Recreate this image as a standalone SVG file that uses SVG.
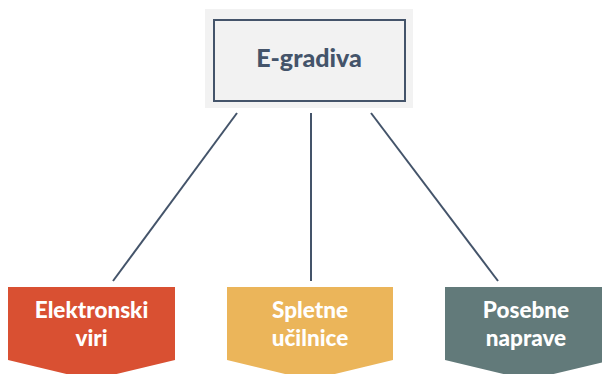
<svg xmlns="http://www.w3.org/2000/svg" width="602" height="374" viewBox="0 0 602 374">
<style>
.lbl{font-family:Lato,"Open Sans",sans-serif;font-weight:900;font-size:22.5px;fill:#ffffff;text-anchor:middle}
.title{font-family:Lato,"Open Sans",sans-serif;font-weight:900;font-size:25px;fill:#44546A;text-anchor:middle}
.conn{stroke:#44546A;stroke-width:2;fill:none}
</style>
<rect width="602" height="374" fill="#ffffff"/>
<g id="connectors">
<line class="conn" x1="237" y1="113" x2="113" y2="281"/>
<line class="conn" x1="311" y1="113" x2="311" y2="281"/>
<line class="conn" x1="371" y1="113" x2="498" y2="281"/>
</g>
<g id="node-egradiva">
<rect x="205" y="9" width="208" height="99" fill="#F2F2F2"/>
<rect x="214" y="20" width="191" height="81" fill="#F2F2F2" stroke="#44546A" stroke-width="2"/>
<text class="title" x="309" y="67">E-gradiva</text>
</g>
<g id="node-elektronski">
<polygon points="8,287 175,287 175,360 91.5,380 8,360" fill="#D95032"/>
<text class="lbl" x="91.5" y="318">Elektronski</text>
<text class="lbl" x="91.5" y="346">viri</text>
</g>
<g id="node-spletne">
<polygon points="227,287 393,287 393,360 310,380 227,360" fill="#EBB55A"/>
<text class="lbl" x="310" y="318">Spletne</text>
<text class="lbl" x="310" y="346">učilnice</text>
</g>
<g id="node-posebne">
<polygon points="445,287 612,287 612,360 528.5,380 445,360" fill="#627A7A"/>
<text class="lbl" x="526" y="318">Posebne</text>
<text class="lbl" x="526" y="346">naprave</text>
</g>
</svg>
